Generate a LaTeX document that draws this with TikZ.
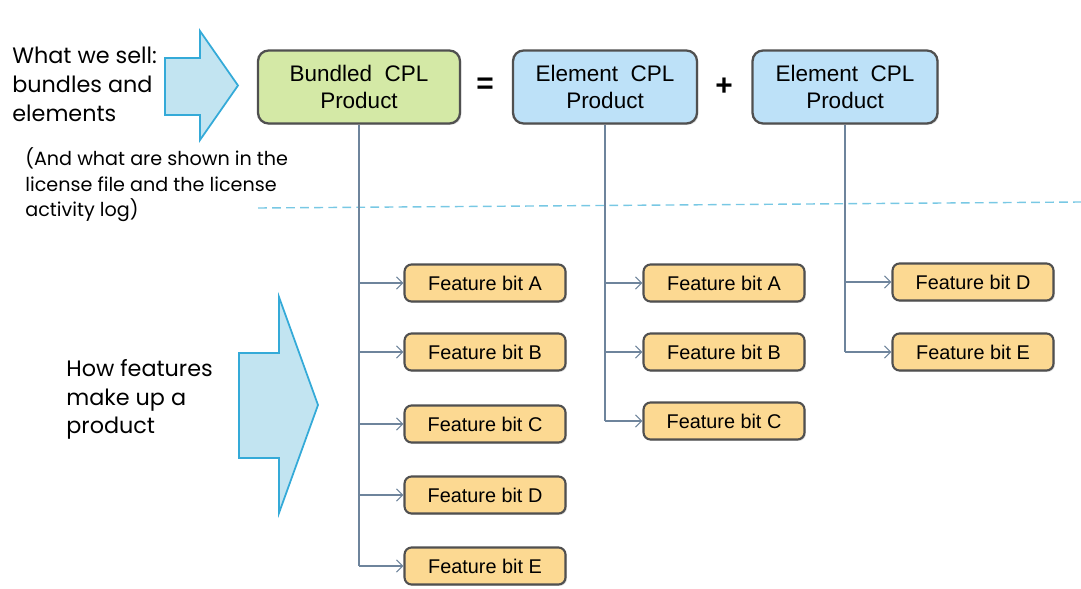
\documentclass[tikz,border=0pt]{standalone}
\usepackage{fontspec}
\setmainfont{Liberation Sans}
\newfontfamily\handfont{Poppins}
\usetikzlibrary{arrows.meta,positioning,shadows}

\definecolor{bundlegreen}{RGB}{212,233,166}
\definecolor{elemblue}{RGB}{189,225,248}
\definecolor{featorange}{RGB}{252,217,146}
\definecolor{boxedge}{RGB}{80,80,80}
\definecolor{bigarrowfill}{RGB}{194,228,241}
\definecolor{bigarrowedge}{RGB}{52,170,216}
\definecolor{linkgray}{RGB}{110,132,156}
\definecolor{dashblue}{RGB}{120,200,228}

\tikzset{
	prodbox/.style={draw=boxedge, line width=1.3pt, rounded corners=6pt, minimum height=1.46cm, align=center, font=\fontsize{12.8}{15.5}\selectfont, drop shadow={opacity=0.25, shadow xshift=0.8pt, shadow yshift=-0.8pt}},
	featbox/.style={draw=boxedge, line width=1.2pt, fill=featorange, rounded corners=4pt, minimum width=3.22cm, minimum height=0.74cm, font=\fontsize{11.3}{13}\selectfont, drop shadow={opacity=0.25, shadow xshift=0.8pt, shadow yshift=-0.8pt}},
	link/.style={draw=linkgray, line width=0.6pt, -{Straight Barb[length=3.5pt,width=7pt]}},
	trunk/.style={draw=linkgray, line width=0.6pt},
	bigarrow/.style={draw=bigarrowedge, fill=bigarrowfill, line width=1pt, line join=miter},
	hand/.style={align=left, inner sep=0pt, anchor=north west, font=\handfont\fontsize{12.7}{16.3}\selectfont},
	handsmall/.style={align=left, inner sep=0pt, anchor=north west, font=\handfont\fontsize{10.9}{14.7}\selectfont}
}

% block arrow: (shaft left:shaft top:shaft bottom)(head x:head top:head bottom:tip x)
\def\bigarrow(#1:#2:#3)(#4:#5:#6:#7){\draw[bigarrow] (#1,#2) -- (#4,#2) -- (#4,#5) -- (#7,{(#5+#6)/2}) -- (#4,#6) -- (#4,#3) -- (#1,#3) -- cycle;}

\begin{document}
\begin{tikzpicture}[x=0.02cm, y=-0.02cm]
			%%%%% START %%%%%
			\useasboundingbox (0,0) rectangle (1081,588);
			
			% left hand notes
			\node[hand] (sell) at (12,47) {What we sell:\\bundles and\\elements};
			\node[handsmall] (shown) at (25,147) {(And what are shown in the\\license file and the license\\activity log)};
			\node[hand] (how) at (66,359) {How features\\make up a\\product};
			
			\bigarrow(165:58:115)(200:31:140:238);
			\bigarrow(239:353:458)(279:297:513:318);
			
			% dashed divider
			\coordinate (dashL) at (258,208);
			\coordinate (dashR) at (1081,202);
			\draw[dashblue, line width=0.8pt, dash pattern=on 5pt off 3pt] (dashL) -- (dashR);
			
			% products
			\node[prodbox, fill=bundlegreen, minimum width=4.04cm] (bun) at (359,87) {Bundled\ \ CPL\\Product};
			\node[font=\bfseries\fontsize{17}{17}\selectfont] (eq) at (485,86) {=};
			\node[prodbox, fill=elemblue, minimum width=3.68cm] (elemA) at (605,87) {Element\ \ CPL\\Product};
			\node[font=\bfseries\fontsize{17}{17}\selectfont] (plus) at (724,87) {+};
			\node[prodbox, fill=elemblue, minimum width=3.7cm] (elemB) at (845,87) {Element\ \ CPL\\Product};
			
			% feature bits
			\foreach \l/\y in {A/283,B/352,C/424,D/495,E/566}{
				\node[featbox] (bf\l) at (485,\y) {Feature bit \l};
				\draw[link] (bun.south |- bf\l.west) -- (bf\l.west);
			}
			\draw[trunk] (bun.south) -- (bun.south |- bfE.west);
			
			\foreach \l/\y in {A/283,B/352,C/421}{
				\node[featbox] (ef\l) at (724,\y) {Feature bit \l};
				\draw[link] (elemA.south |- ef\l.west) -- (ef\l.west);
			}
			\draw[trunk] (elemA.south) -- (elemA.south |- efC.west);
			
			\foreach \l/\y in {D/282,E/352}{
				\node[featbox] (gf\l) at (973,\y) {Feature bit \l};
				\draw[link] (elemB.south |- gf\l.west) -- (gf\l.west);
			}
			\draw[trunk] (elemB.south) -- (elemB.south |- gfE.west);
			%%%%% END %%%%%
\end{tikzpicture}
\end{document}
